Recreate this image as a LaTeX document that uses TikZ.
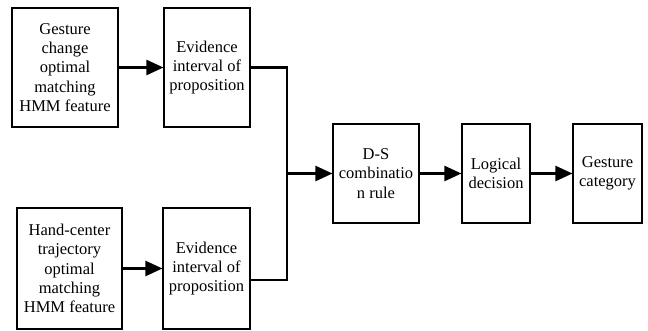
\documentclass[tikz,border=0pt]{standalone}
\usepackage{fontspec}
\setmainfont{Liberation Serif}
\usetikzlibrary{arrows.meta}
\begin{document}
\begin{tikzpicture}[x=1pt,y=1pt,
  box/.style={draw,line width=1.1pt,align=center,inner sep=0pt,font=\fontsize{16.5}{19.3}\selectfont},
  conn/.style={line width=2.3pt,-{Triangle[length=17pt,width=15pt]}},
  plain/.style={line width=2.3pt}]
\useasboundingbox (0,0) rectangle (648,-331);
\node[box,minimum width=106pt,minimum height=119pt] (b1) at (65,-67.5) {Gesture\\change\\optimal\\matching\\HMM feature};
\node[box,minimum width=86pt,minimum height=119pt] (b2) at (207,-67.5) {Evidence\\interval of\\proposition};
\node[box,minimum width=105pt,minimum height=121pt] (b3) at (69.5,-268.5) {Hand-center\\trajectory\\optimal\\matching\\HMM feature};
\node[box,minimum width=87pt,minimum height=121pt] (b4) at (206.5,-268.5) {Evidence\\interval of\\proposition};
\node[box,minimum width=86pt,minimum height=99pt] (ds) at (376,-173.5) {D-S\\combinatio\\n rule};
\node[box,minimum width=68pt,minimum height=99pt] (lg) at (496,-173.5) {Logical\\decision};
\node[box,minimum width=69pt,minimum height=99pt] (gc) at (607.5,-173.5) {Gesture\\category};
\coordinate (jt) at (287,-67.5);
\coordinate (jb) at (287,-280);
\coordinate (jm) at (287,-173.5);
\coordinate (b4o) at (250,-280);
\draw[conn] (b1) -- (b2);
\draw[conn] (b3) -- (b4);
\draw[plain,line join=miter] (b2.east) -- (jt) -- (jb) -- (b4o);
\draw[conn] (jm) -- (ds);
\draw[conn] (ds) -- (lg);
\draw[conn] (lg) -- (gc);
\end{tikzpicture}
\end{document}
